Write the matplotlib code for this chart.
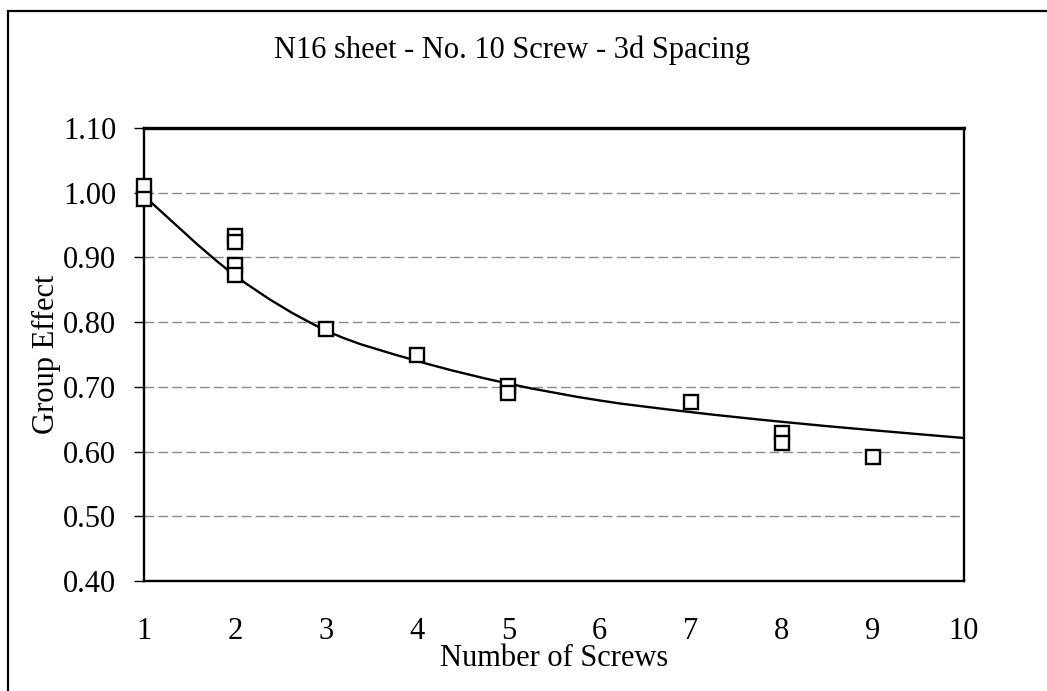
import numpy as np
import matplotlib
matplotlib.use('Agg')
from matplotlib import pyplot as plt
from matplotlib.patches import Rectangle
from matplotlib.path import Path
from matplotlib.patches import PathPatch

plt.rcParams['font.family'] = ['Liberation Serif', 'DejaVu Serif']

# test results (group effect per number of screws)
test_screws = [1, 1, 2, 2, 2, 2, 3, 4, 5, 5, 7, 8, 8, 9]
test_effect = [1.01, 0.99, 0.933, 0.924, 0.889, 0.873, 0.789, 0.749, 0.702, 0.690,
               0.677, 0.628, 0.613, 0.591]

# design curve, read at each whole number of screws
curve_screws = [1, 2, 3, 4, 5, 6, 7, 8, 9, 10]
curve_effect = [0.995, 0.872, 0.787, 0.740, 0.705, 0.679, 0.661, 0.646, 0.633, 0.621]

x_ticks = [1, 2, 3, 4, 5, 6, 7, 8, 9, 10]
y_ticks = [0.40, 0.50, 0.60, 0.70, 0.80, 0.90, 1.00, 1.10]

fs = 22

fig = plt.figure(figsize=(10.47, 6.91), dpi=100)
ax = fig.add_axes([144 / 1047, 110 / 691, 820 / 1047, 453 / 691])

# smoothed line through the curve values (Excel style bezier)
px = np.array(curve_screws, dtype=float)
py = np.array(curve_effect, dtype=float)
verts = [(px[0], py[0])]
codes = [Path.MOVETO]
for i in range(len(px) - 1):
    p0 = i - 1 if i > 0 else i
    p3 = i + 2 if i + 2 < len(px) else i + 1
    c1 = (px[i] + (px[i + 1] - px[p0]) / 6, py[i] + (py[i + 1] - py[p0]) / 6)
    c2 = (px[i + 1] - (px[p3] - px[i]) / 6, py[i + 1] - (py[p3] - py[i]) / 6)
    verts += [c1, c2, (px[i + 1], py[i + 1])]
    codes += [Path.CURVE4] * 3
ax.add_patch(PathPatch(Path(verts, codes), facecolor='none', edgecolor='black',
                       linewidth=1.7, zorder=3))

ax.plot(test_screws, test_effect, linestyle='none', marker='s', markersize=10,
        markerfacecolor='white', markeredgecolor='black', markeredgewidth=1.7,
        zorder=4, clip_on=False)

ax.set_xlim(1, 10)
ax.set_ylim(0.40, 1.10)
ax.set_xticks(x_ticks)
ax.set_yticks(y_ticks)
ax.set_yticklabels([f'{v:.2f}' for v in y_ticks])
ax.tick_params(axis='y', direction='out', length=7, width=1, labelsize=fs, pad=13)
ax.tick_params(axis='x', length=0, labelsize=fs, pad=26)
for v in y_ticks[1:-1]:
    ax.axhline(v, color='#8a8a8a', linewidth=1, linestyle=(0, (7, 3)), zorder=1)
for s in ax.spines.values():
    s.set_linewidth(1.7)
ax.spines['top'].set_linewidth(2.4)

ax.set_xlabel('Number of Screws', fontsize=fs, va='center')
ax.xaxis.set_label_coords(0.5, (581 - 658) / 453)
ax.set_ylabel('Group Effect', fontsize=fs, va='center')
ax.yaxis.set_label_coords((46 - 144) / 820, 0.5)
fig.text(512 / 1047, 1 - 50 / 691, 'N16 sheet - No. 10 Screw - 3d Spacing',
         fontsize=fs, ha='center', va='center')

fig.patches.append(Rectangle((8 / 1047, -0.05), 1.1, 1 - 11 / 691 + 0.05,
                             transform=fig.transFigure, fill=False,
                             edgecolor='black', linewidth=1.6))

fig.savefig('out.png', dpi=100)
